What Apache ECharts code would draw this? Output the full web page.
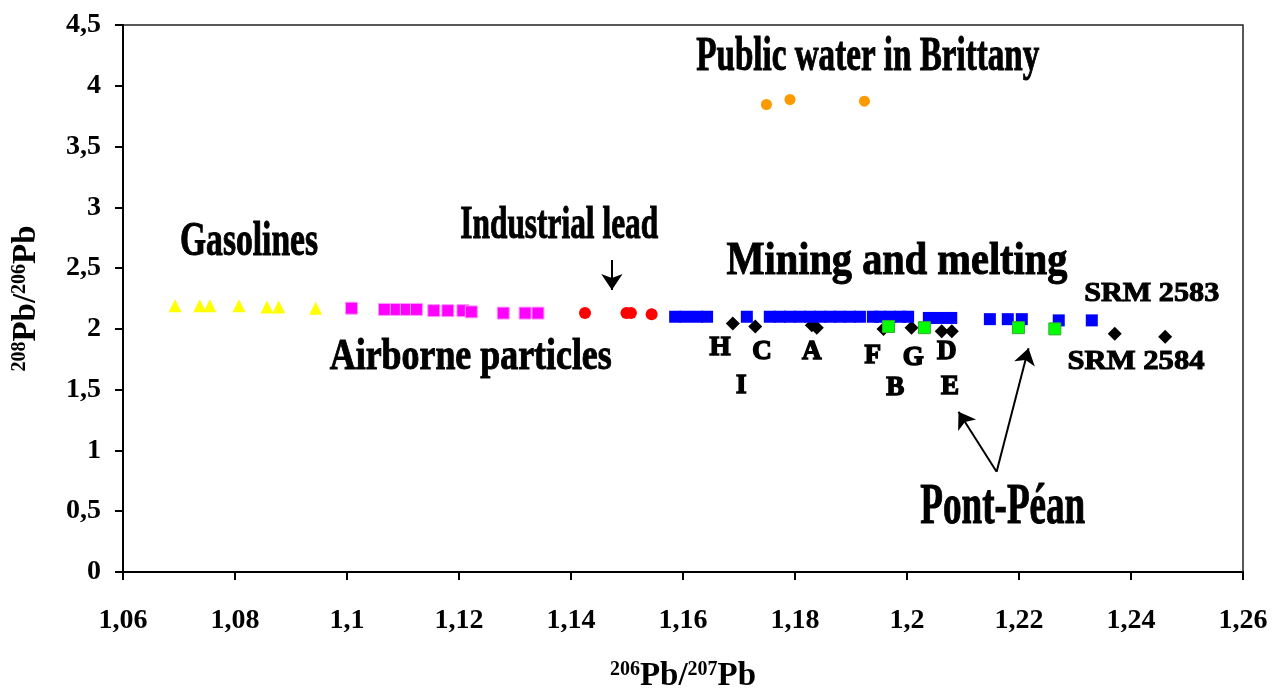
<!DOCTYPE html>
<html><head><meta charset="utf-8">
<script src="https://cdn.jsdelivr.net/npm/echarts@6/dist/echarts.min.js"></script>
<style>html,body{margin:0;padding:0;background:#fff}#c{width:1273px;height:693px}</style>
</head><body><div id="c"></div>
<script>
// ---- data (x = 206Pb/207Pb, y = 208Pb/206Pb) ----
const gasolines = [[1.0693,2.19],[1.0737,2.19],[1.0755,2.19],[1.0807,2.19],[1.0857,2.18],[1.0878,2.18],[1.0944,2.17]];
const airborne = [[1.1008,2.17],[1.1067,2.16],[1.1088,2.16],[1.1106,2.16],[1.1124,2.16],[1.1155,2.15],[1.1180,2.15],[1.1207,2.15],[1.1222,2.14],[1.1279,2.13],[1.1318,2.13],[1.1341,2.13]];
const industrial = [[1.1425,2.13],[1.1499,2.13],[1.1507,2.13],[1.1544,2.12]];
const mining = [[1.1586,2.10],[1.1604,2.10],[1.1625,2.10],[1.1643,2.10],[1.1714,2.10],[1.1755,2.10],[1.1773,2.10],[1.1791,2.10],[1.1809,2.10],[1.1827,2.10],[1.1845,2.10],[1.1863,2.10],[1.1880,2.10],[1.1898,2.10],[1.1916,2.10],[1.1939,2.10],[1.1952,2.10],[1.1970,2.10],[1.1988,2.10],[1.2002,2.10],[1.2039,2.09],[1.2059,2.09],[1.2079,2.09],[1.2148,2.08],[1.2180,2.08],[1.2205,2.08],[1.2271,2.07],[1.2330,2.07]];
const samples = [[1.1689,2.045],[1.1729,2.02],[1.1830,2.03],[1.1839,2.01],[1.1958,2.00],[1.2008,2.01],[1.2062,1.98],[1.2080,1.98],[1.2371,1.96],[1.2461,1.935]];
const pontPean = [[1.1967,2.02],[1.2031,2.01],[1.2199,2.01],[1.2264,2.00]];
const publicWater = [[1.1749,3.846],[1.1791,3.887],[1.1924,3.873]];

// annotations: text and data-space anchor
const labels = [
  ['Public water in Brittany',1.1930,4.235],
  ['Gasolines',1.0825,2.706],
  ['Industrial lead',1.1379,2.845],
  ['Mining and melting',1.1982,2.549],
  ['SRM 2583',1.2437,2.286],
  ['SRM 2584',1.2409,1.727],
  ['Airborne particles',1.1221,1.760],
  ['Pont-Péan',1.2171,0.526],
  ['H',1.1666,1.842],['I',1.1704,1.530],['C',1.1741,1.809],['A',1.1830,1.809],
  ['F',1.1939,1.776],['B',1.1979,1.513],['G',1.2011,1.760],['D',1.2071,1.809],['E',1.2077,1.521]
];
const arrows = [
  [[1.1473,2.566],[1.1473,2.319]],
  [[1.2160,0.825],[1.2092,1.318]],
  [[1.2160,0.825],[1.2217,1.840]]
];

// ---- styles ----
const FF = '"Liberation Serif","Times New Roman",serif';
const labelStyle = {
  'Public water in Brittany':{size:48,w:343},
  'Gasolines':{size:48,w:138},
  'Industrial lead':{size:46,w:198},
  'Mining and melting':{size:46,w:341},
  'Airborne particles':{size:44,w:282},
  'SRM 2583':{size:28,w:135},
  'SRM 2584':{size:28,w:137},
  'Pont-Péan':{size:58,w:165}
};
const fmt = v => String(Math.round(v*100)/100).replace('.', ',');

const chart = echarts.init(document.getElementById('c'), null, {renderer:'canvas'});
const axisCommon = {
  axisLine:{show:true,lineStyle:{color:'#000',width:2}},
  axisTick:{show:true,inside:false,length:8,lineStyle:{color:'#000',width:2}},
  splitLine:{show:false},
  axisLabel:{color:'#000',fontFamily:FF,fontWeight:'bold',fontSize:28,formatter:fmt}
};
const nameStyle = {color:'#000',fontFamily:FF,fontWeight:'bold',fontSize:33,
  rich:{b:{fontFamily:FF,fontWeight:'bold',fontSize:33,color:'#000'},
        sup:{fontFamily:FF,fontWeight:'bold',fontSize:20,color:'#000',verticalAlign:'top'}}};
const sc = (data, symbol, size, color, border, z) => ({
  type:'scatter', data, symbol, symbolSize:size, z,
  itemStyle:{color, borderColor:border||color, borderWidth:border?1:0, opacity:1},
  emphasis:{disabled:true}
});
chart.setOption({
  animation:false,
  backgroundColor:'#fff',
  grid:{left:123,right:30,top:25,bottom:121,containLabel:false,outerBoundsMode:'none',
        show:true,borderColor:'#222',borderWidth:1.5,backgroundColor:'transparent'},
  xAxis:Object.assign({}, axisCommon, {
    type:'value', min:1.06, max:1.26, interval:0.02,
    axisLabel:Object.assign({}, axisCommon.axisLabel, {margin:35}),
    name:'{sup|206}{b|Pb/}{sup|207}{b|Pb}', nameLocation:'middle', nameGap:88,
    nameTextStyle:nameStyle
  }),
  yAxis:Object.assign({}, axisCommon, {
    type:'value', min:0, max:4.5, interval:0.5,
    axisLabel:Object.assign({}, axisCommon.axisLabel, {margin:22}),
    name:'{sup|208}{b|Pb/}{sup|206}{b|Pb}', nameLocation:'middle', nameGap:80, nameRotate:90,
    nameTextStyle:nameStyle
  }),
  series:[
    sc(gasolines,'triangle',13,'#FFFF00',null,3),
    sc(airborne,'rect',12,'#FF00FF','#FF99FF',3),
    sc(industrial,'circle',12,'#FF0000',null,3),
    sc(samples,'diamond',14,'#000000',null,3),
    sc(mining,'rect',12,'#0000FF',null,4),
    sc(pontPean,'rect',12,'#00FF00','#33AA33',5),
    sc(publicWater,'circle',11,'#FF9900',null,3),
    {type:'lines', coordinateSystem:'cartesian2d', z:6,
     data:arrows.map(a=>({coords:a})), symbol:['none','arrow'], symbolSize:16,
     lineStyle:{color:'#000',width:2,opacity:1,curveness:0}, emphasis:{disabled:true}}
  ]
});

// annotations as text anchored to data coordinates
const ctx = document.createElement('canvas').getContext('2d');
const els = labels.map(([t,x,y]) => {
  const st = labelStyle[t] || {size:27};
  const font = 'bold ' + st.size + 'px ' + FF;
  ctx.font = font;
  const sx = st.w ? st.w / ctx.measureText(t).width : 1;
  const p = chart.convertToPixel({xAxisIndex:0,yAxisIndex:0},[x,y]);
  return {type:'text', x:p[0], y:p[1], scaleX:sx, scaleY:1, z:100, silent:true,
    style:{text:t, font, fill:'#000', stroke:'#000', lineWidth:st.w ? 1 : 1.5,
      textAlign:'center', textVerticalAlign:'middle', verticalAlign:'middle'}};
});
chart.setOption({graphic:{elements:els}});
</script></body></html>
